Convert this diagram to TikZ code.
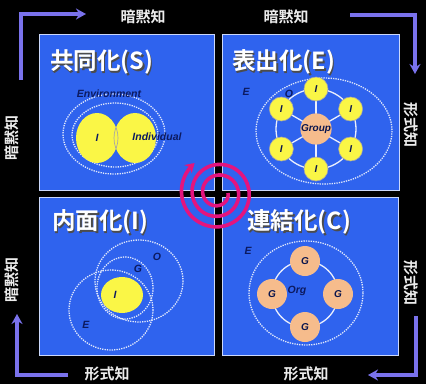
\documentclass[tikz,border=0pt]{standalone}
\usepackage{fontspec}
\setmainfont{Liberation Sans}
\newfontfamily\cjk{Noto Sans CJK JP}[BoldFont={Noto Sans CJK JP Bold}]
\usetikzlibrary{arrows.meta,calc}
\definecolor{panelblue}{RGB}{47,99,238}
\definecolor{arrowpurple}{RGB}{122,114,236}
\definecolor{spiralpink}{RGB}{228,20,126}
\definecolor{navy}{RGB}{12,26,96}
\definecolor{lemon}{RGB}{250,246,70}
\definecolor{peach}{RGB}{246,188,140}
\tikzset{
  panel/.style={fill=panelblue, draw=white!75!panelblue, line width=0.8pt},
  flow/.style={draw=arrowpurple, line width=3.4pt, -{Stealth[length=10pt,width=11pt]}},
  side/.style={font=\cjk\bfseries\fontsize{15}{15}\selectfont, text=white!85!gray, inner sep=0pt},
  title/.style={font=\cjk\bfseries\fontsize{23.5}{23.5}\selectfont, text=white, inner sep=0pt, anchor=west},
  tshadow/.style={font=\cjk\bfseries\fontsize{23.5}{23.5}\selectfont, text=black!70, inner sep=0pt, anchor=west},
  dotring/.style={draw=white!85!panelblue, line width=1.3pt, dash pattern=on 1.3pt off 1.1pt},
  ring/.style={draw=white!90!panelblue, line width=1.3pt},
  lbl/.style={font=\bfseries\itshape\fontsize{10.5}{10.5}\selectfont, text=navy, inner sep=0pt},
  inode/.style={circle, fill=lemon, draw=gray!70, line width=0.6pt, minimum size=24pt, inner sep=0pt, font=\bfseries\itshape\fontsize{10}{10}\selectfont, text=navy!80!black},
  gnode/.style={circle, fill=peach, draw=none, minimum size=30pt, inner sep=0pt, font=\bfseries\itshape\fontsize{10}{10}\selectfont, text=navy!80!black},
  spiral/.style={draw=spiralpink, line width=3.6pt, -{Stealth[length=9pt,width=11pt]}}
}
\begin{document}
\begin{tikzpicture}[x=1pt,y=-1pt]
\path[use as bounding box, fill=black] (0,0) rectangle (426,384);
% panels
\path[panel] (39,34) rectangle (214,190);
\path[panel] (222,34) rectangle (399,190);
\path[panel] (39,197) rectangle (214,355);
\path[panel] (222,197) rectangle (398,355);

% perimeter arrows
\coordinate (a1s) at (21,80); \coordinate (a1c) at (21,14); \coordinate (a1e) at (86,14);
\draw[flow] (a1s) -- (a1c) -- (a1e);
\coordinate (a2s) at (350,15); \coordinate (a2c) at (415,15); \coordinate (a2e) at (415,74);
\draw[flow] (a2s) -- (a2c) -- (a2e);
\coordinate (a3s) at (416,316); \coordinate (a3c) at (416,375); \coordinate (a3e) at (368,375);
\draw[flow] (a3s) -- (a3c) -- (a3e);
\coordinate (a4s) at (68,375); \coordinate (a4c) at (17,375); \coordinate (a4e) at (17,314);
\draw[flow] (a4s) -- (a4c) -- (a4e);

% side labels
\node[side] (t1) at (143,17) {暗黙知};
\node[side] (t2) at (286,17) {暗黙知};
\node[side] (b1) at (107,374) {形式知};
\node[side] (b2) at (306,374) {形式知};
\node[side, rotate=90] (l1) at (12,138) {暗黙知};
\node[side, rotate=90] (l2) at (12,280) {暗黙知};
\node[side, rotate=-90] (r1) at (411,125) {形式知};
\node[side, rotate=-90] (r2) at (411,283) {形式知};

% titles
\node[tshadow] (s1s) at (51.5,63.5) {共同化(S)};
\node[title] (s1) at (50,62) {共同化(S)};
\node[tshadow] (s2s) at (233.5,63.5) {表出化(E)};
\node[title] (s2) at (232,62) {表出化(E)};
\node[tshadow] (s3s) at (53.5,223.5) {内面化(I)};
\node[title] (s3) at (52,222) {内面化(I)};
\node[tshadow] (s4s) at (248.5,223.5) {連結化(C)};
\node[title] (s4) at (247,222) {連結化(C)};

% ---- Socialization
\draw[dotring] (114,134) ellipse [x radius=51, y radius=40];
\draw[dotring] (115,135) ellipse [x radius=43, y radius=32];
\fill[lemon] (97,138) ellipse [x radius=21, y radius=25];
\fill[lemon] (135,138) ellipse [x radius=21, y radius=25];
\begin{scope}
\clip (97,138) ellipse [x radius=21, y radius=25];
\draw[gray!70, line width=0.7pt] (135,138) ellipse [x radius=21, y radius=25];
\end{scope}
\begin{scope}
\clip (135,138) ellipse [x radius=21, y radius=25];
\draw[gray!70, line width=0.7pt] (97,138) ellipse [x radius=21, y radius=25];
\end{scope}
\node[lbl] (envS) at (109,94) {Environment};
\node[lbl] (iS) at (97,138) {I};
\node[lbl] (indS) at (157,137) {Individual};

% ---- Externalization
\draw[dotring] (324,131) ellipse [x radius=68, y radius=53];
\coordinate (ec) at (316,129);
\draw[ring] (ec) circle [radius=40];
\foreach \a [count=\k] in {90,30,-30,-90,-150,150} {
  \draw[ring] (ec) -- ($(ec)+(\a:40)$);
}
\node[gnode, minimum size=29pt] (grp) at (ec) {Group};
\foreach \a [count=\k] in {90,30,-30,-90,-150,150} {
  \node[inode] (iE\k) at ($(ec)+(\a:40)$) {I};
}
\node[lbl] (eE) at (246,92) {E};
\node[lbl] (oE) at (289,94) {O};

% ---- Internalization
\draw[dotring] (139,281) ellipse [x radius=44, y radius=41];
\draw[dotring] (125,288) ellipse [x radius=28, y radius=31];
\draw[dotring] (111,310) ellipse [x radius=42, y radius=40];
\fill[lemon] (122,295) ellipse [x radius=21, y radius=18];
\node[lbl] (oI) at (157,257) {O};
\node[lbl] (gI) at (138,269) {G};
\node[lbl] (iI) at (115,295) {I};
\node[lbl] (eI) at (86,325) {E};

% ---- Combination
\draw[dotring] (306,293) ellipse [x radius=57, y radius=52];
\coordinate (cc) at (305,294);
\draw[ring] (cc) circle [radius=33];
\node[gnode] (g1) at ($(cc)+(0,-33)$) {G};
\node[gnode] (g2) at ($(cc)+(33,0)$) {G};
\node[gnode] (g3) at ($(cc)+(0,33)$) {G};
\node[gnode] (g4) at ($(cc)+(-33,0)$) {G};
\node[lbl] (org) at (297,291) {Org};
\node[lbl] (eC) at (248,251) {E};

% ---- spiral
\draw[spiral] plot[domain=0:952, samples=240, variable=\t]
  ({218+(10+0.0294*\t)*cos(\t)}, {193+(10+0.0294*\t)*sin(\t)});
\end{tikzpicture}
\end{document}
